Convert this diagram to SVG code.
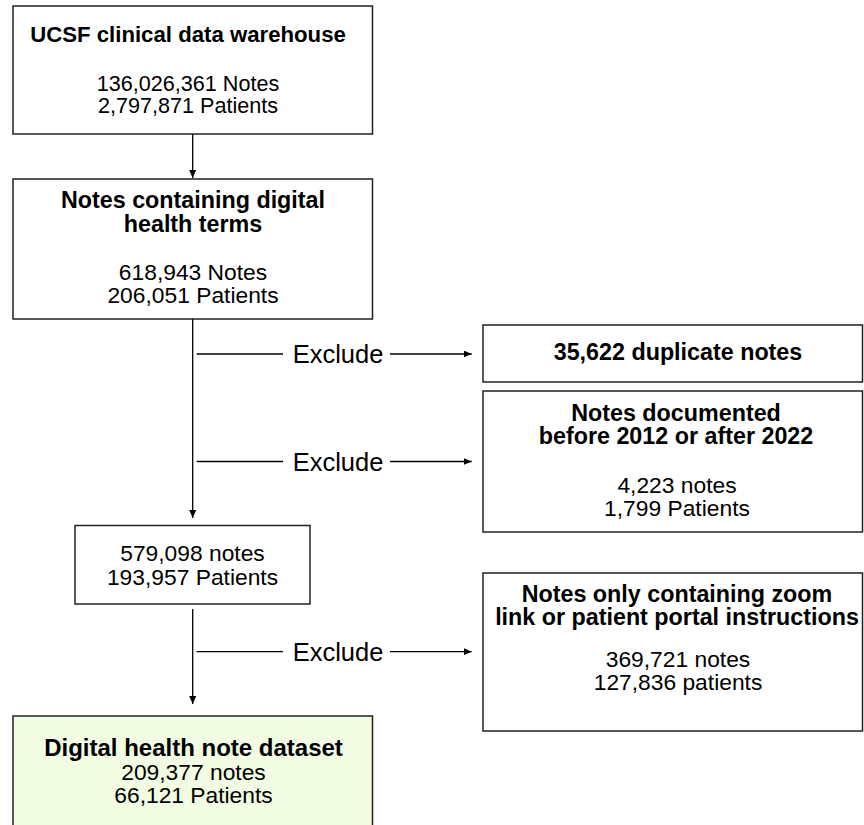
<svg xmlns="http://www.w3.org/2000/svg" width="864" height="825" viewBox="0 0 864 825">
<defs>
<marker id="ah" markerUnits="userSpaceOnUse" markerWidth="9" markerHeight="7" refX="8" refY="3.5" orient="auto">
<path d="M0,0 L8,3.5 L0,7 z" fill="#000"/>
</marker>
<style>
.box{fill:#fff;stroke:#222;stroke-width:1.5}
.final{fill:#F1FCE3;stroke:#222;stroke-width:1.5}
.t{font-family:"Liberation Sans",Arial,sans-serif;font-size:22.8px;fill:#000;text-anchor:middle}
.b{font-weight:bold;font-size:23.3px}
.s{font-size:21.6px}
.sb{font-size:22.2px}
.ex{font-family:"Liberation Sans",Arial,sans-serif;font-size:25.5px;fill:#000;text-anchor:middle}
.c{stroke:#000;stroke-width:1.3;fill:none}
</style>
</defs>
<rect width="864" height="825" fill="#fff"/>
<g id="n1">
<rect class="box" x="13" y="6" width="359.5" height="128"/>
<text class="t b sb" x="188" y="41.5">UCSF clinical data warehouse</text>
<text class="t s" x="188" y="90.5">136,026,361 Notes</text>
<text class="t s" x="188" y="113">2,797,871 Patients</text>
</g>
<g id="n2">
<rect class="box" x="13" y="179" width="359.5" height="140"/>
<text class="t b" x="193" y="208">Notes containing digital</text>
<text class="t b" x="193" y="231.5">health terms</text>
<text class="t" x="193" y="280">618,943 Notes</text>
<text class="t" x="193" y="303">206,051 Patients</text>
</g>
<g id="n3">
<rect class="box" x="483" y="325" width="379.5" height="57"/>
<text class="t b" x="678" y="360">35,622 duplicate notes</text>
</g>
<g id="n4">
<rect class="box" x="483" y="391" width="379.5" height="141"/>
<text class="t b" x="676" y="420.5">Notes documented</text>
<text class="t b" x="676" y="444">before 2012 or after 2022</text>
<text class="t" x="677" y="492.7">4,223 notes</text>
<text class="t" x="677" y="515.5">1,799 Patients</text>
</g>
<g id="n5">
<rect class="box" x="75" y="525.5" width="235" height="78.5"/>
<text class="t" x="192.5" y="560.5">579,098 notes</text>
<text class="t" x="192.5" y="584.5">193,957 Patients</text>
</g>
<g id="n6">
<rect class="box" x="483" y="573" width="379.5" height="158"/>
<text class="t b" x="677" y="602">Notes only containing zoom</text>
<text class="t b" x="677" y="625">link or patient portal instructions</text>
<text class="t" x="678" y="667">369,721 notes</text>
<text class="t" x="678" y="690">127,836 patients</text>
</g>
<g id="n7">
<rect class="final" x="13" y="716" width="359.5" height="120"/>
<text class="t b" x="193.5" y="756" style="font-size:24px">Digital health note dataset</text>
<text class="t" x="193.5" y="779.5">209,377 notes</text>
<text class="t" x="193.5" y="803">66,121 Patients</text>
</g>
<g id="connectors">
<line class="c" x1="192.7" y1="134" x2="192.7" y2="178" marker-end="url(#ah)"/>
<line class="c" x1="192.7" y1="319" x2="192.7" y2="518" marker-end="url(#ah)"/>
<line class="c" x1="192.7" y1="609" x2="192.7" y2="704" marker-end="url(#ah)"/>
<line class="c" x1="196.7" y1="354" x2="283" y2="354"/>
<line class="c" x1="390" y1="354" x2="471.7" y2="354" marker-end="url(#ah)"/>
<text class="ex" x="338" y="363">Exclude</text>
<line class="c" x1="196.7" y1="461.5" x2="283" y2="461.5"/>
<line class="c" x1="390" y1="461.5" x2="471.7" y2="461.5" marker-end="url(#ah)"/>
<text class="ex" x="338" y="470.5">Exclude</text>
<line class="c" x1="196.7" y1="651.7" x2="283" y2="651.7"/>
<line class="c" x1="390" y1="651.7" x2="471.7" y2="651.7" marker-end="url(#ah)"/>
<text class="ex" x="338" y="661">Exclude</text>
</g>
</svg>
